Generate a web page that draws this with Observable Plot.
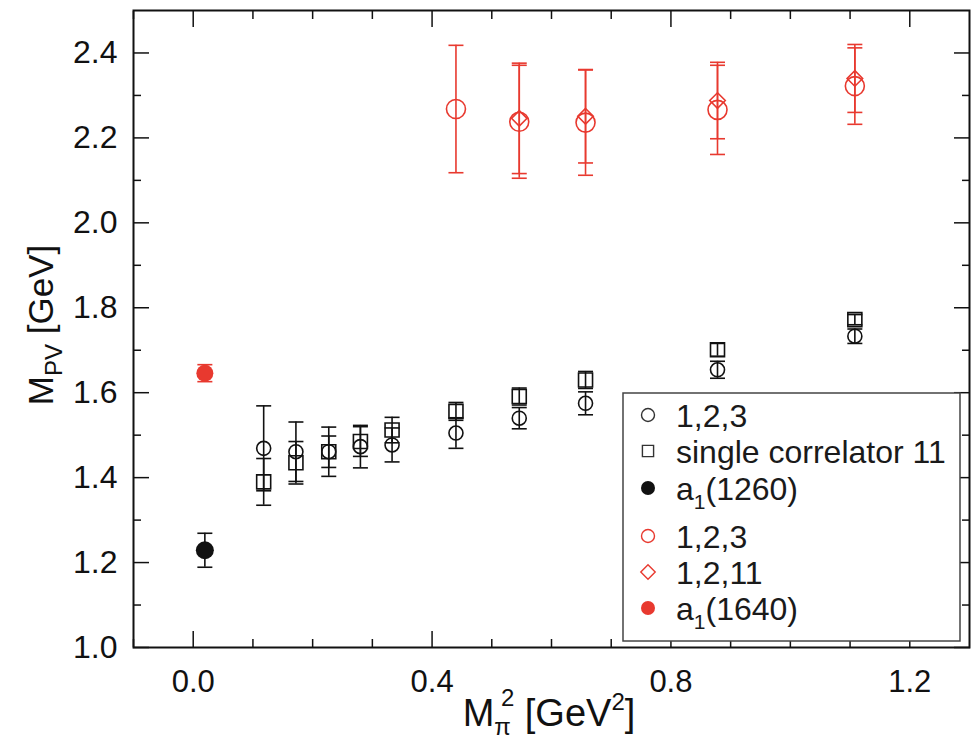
<!DOCTYPE html>
<html><head><meta charset="utf-8">
<script src="https://cdn.jsdelivr.net/npm/d3@7"></script>
<script src="https://cdn.jsdelivr.net/npm/@observablehq/plot@0.6"></script>
<style>
body{margin:0;background:#fff;}
#chart{width:976px;height:744px;}
</style></head><body><div id="chart"></div>
<script>
// ---- data ----
const mpi2Black = [0.118, 0.172, 0.227, 0.280, 0.333, 0.440, 0.546, 0.657, 0.878, 1.108];
const op123 = [1.469, 1.461, 1.461, 1.473, 1.477, 1.505, 1.540, 1.575, 1.654, 1.733];
const op123Err = [0.100, 0.070, 0.058, 0.050, 0.040, 0.036, 0.025, 0.027, 0.020, 0.017];
const single11 = [1.390, 1.435, 1.461, 1.485, 1.512, 1.556, 1.591, 1.630, 1.701, 1.772];
const single11Err = [0.055, 0.050, 0.037, 0.035, 0.030, 0.021, 0.020, 0.020, 0.015, 0.012];

const mpi2Red = [0.440, 0.546, 0.657, 0.878, 1.108];
const red123 = [2.268, 2.238, 2.236, 2.266, 2.322];
const red123Err = [0.150, 0.133, 0.124, 0.105, 0.090];
const mpi2RedDia = [0.546, 0.657, 0.878, 1.108];
const red1211 = [2.246, 2.251, 2.288, 2.340];
const red1211Err = [0.130, 0.110, 0.090, 0.080];

const mpi2Phys = [0.0195];
const a1260 = [1.229];
const a1260Err = [0.040];
const a1640 = [1.646];
const a1640Err = [0.020];

const xMajorTicks = [0.0, 0.4, 0.8, 1.2];
const xMinorTicks = [-0.1, 0.1, 0.2, 0.3, 0.5, 0.6, 0.7, 0.9, 1.0, 1.1];
const yMajorTicks = [1.0, 1.2, 1.4, 1.6, 1.8, 2.0, 2.2, 2.4];
const yMinorTicks = [1.1, 1.3, 1.5, 1.7, 1.9, 2.1, 2.3];

const legendLabels = ["1,2,3", "single correlator 11", "a1(1260)", "1,2,3", "1,2,11", "a1(1640)"];

// ---- build ----
const BLACK = "#111111";
const RED = "#e8392f";
const rows = (xs, ys, es) => xs.map((x, i) => ({x, y: ys[i], e: es[i]}));
const blackCirc = rows(mpi2Black, op123, op123Err);
const blackSq = rows(mpi2Black, single11, single11Err);
const redCirc = rows(mpi2Red, red123, red123Err);
const redDia = rows(mpi2RedDia, red1211, red1211Err);
const phys1260 = rows(mpi2Phys, a1260, a1260Err);
const phys1640 = rows(mpi2Phys, a1640, a1640Err);

const capSymbol = {draw(ctx, size) { const w = Math.sqrt(size / Math.PI); ctx.moveTo(-w, 0); ctx.lineTo(w, 0); }};

function errorBars(data, color) {
  return [
    Plot.ruleX(data, {x: "x", y1: d => d.y - d.e, y2: d => d.y + d.e, stroke: color, strokeWidth: 1.6}),
    Plot.dot(data, {x: "x", y: d => d.y - d.e, symbol: capSymbol, r: 7.5, stroke: color, strokeWidth: 1.6}),
    Plot.dot(data, {x: "x", y: d => d.y + d.e, symbol: capSymbol, r: 7.5, stroke: color, strokeWidth: 1.6})
  ];
}

const MAJ = 16, MIN = 8;
const noText = () => "";
const tickStyle = {stroke: BLACK, strokeWidth: 1.5, tickFormat: noText, label: null};

const plot = Plot.plot({
  width: 976,
  height: 744,
  marginTop: 10,
  marginRight: 7,
  marginBottom: 97,
  marginLeft: 133,
  style: {fontFamily: "'Liberation Sans', Arial, sans-serif", color: BLACK, background: "#fff"},
  x: {domain: [-0.1, 1.3]},
  y: {domain: [1.0, 2.5]},
  marks: [
    // ticks inside the frame on all four sides
    Plot.axisX(xMajorTicks, {anchor: "bottom", tickSize: -MAJ, ...tickStyle}),
    Plot.axisX(xMinorTicks, {anchor: "bottom", tickSize: -MIN, ...tickStyle}),
    Plot.axisX(xMajorTicks, {anchor: "top", tickSize: -MAJ, ...tickStyle}),
    Plot.axisX(xMinorTicks, {anchor: "top", tickSize: -MIN, ...tickStyle}),
    Plot.axisY(yMajorTicks, {anchor: "left", tickSize: -MAJ, ...tickStyle}),
    Plot.axisY(yMinorTicks, {anchor: "left", tickSize: -MIN, ...tickStyle}),
    Plot.axisY(yMajorTicks, {anchor: "right", tickSize: -MAJ, ...tickStyle}),
    Plot.axisY(yMinorTicks, {anchor: "right", tickSize: -MIN, ...tickStyle}),
    // tick labels
    Plot.axisX(xMajorTicks, {anchor: "bottom", tickSize: 0, tickPadding: 22, tickFormat: d3.format(".1f"), fontSize: 31, label: null}),
    Plot.axisY(yMajorTicks, {anchor: "left", tickSize: 0, tickPadding: 16, tickFormat: d3.format(".1f"), fontSize: 32, label: null}),

    // black series
    ...errorBars(blackCirc, BLACK),
    ...errorBars(blackSq, BLACK),
    Plot.dot(blackCirc, {x: "x", y: "y", r: 7, stroke: BLACK, strokeWidth: 1.6, fill: "none"}),
    Plot.dot(blackSq, {x: "x", y: "y", symbol: "square", r: 7.9, stroke: BLACK, strokeWidth: 1.6, fill: "none"}),
    ...errorBars(phys1260, BLACK),
    Plot.dot(phys1260, {x: "x", y: "y", r: 9, fill: BLACK}),

    // red series
    ...errorBars(redCirc, RED),
    ...errorBars(redDia, RED),
    Plot.dot(redCirc, {x: "x", y: "y", r: 9.5, stroke: RED, strokeWidth: 1.6, fill: "none"}),
    Plot.dot(redDia, {x: "x", y: "y", symbol: "diamond2", r: 7, stroke: RED, strokeWidth: 1.6, fill: "none"}),
    ...errorBars(phys1640, RED),
    Plot.dot(phys1640, {x: "x", y: "y", r: 8.5, fill: RED}),

    Plot.frame({stroke: BLACK, strokeWidth: 2})
  ]
});

document.getElementById("chart").appendChild(plot);

// ---- axis titles and legend (drawn into the same SVG) ----
const svg = d3.select(plot);
const FONT = "'Liberation Sans', Arial, sans-serif";

const yt = svg.append("text")
  .attr("transform", "translate(53,325) rotate(-90)")
  .attr("text-anchor", "middle")
  .attr("font-family", FONT).attr("font-size", 35).attr("fill", BLACK);
yt.append("tspan").text("M");
yt.append("tspan").attr("font-size", 24).attr("dy", 9).text("PV");
yt.append("tspan").attr("dy", -9).text(" [GeV]");

const xt = svg.append("text")
  .attr("transform", "translate(549,726)")
  .attr("text-anchor", "middle")
  .attr("font-family", FONT).attr("font-size", 38).attr("fill", BLACK);
xt.append("tspan").text("M");
xt.append("tspan").attr("font-size", 24).attr("dy", 9).text("π");
xt.append("tspan").attr("font-size", 24).attr("dy", -29).attr("dx", -10).text("2");
xt.append("tspan").attr("dy", 20).text(" [GeV");
xt.append("tspan").attr("font-size", 24).attr("dy", -16).text("2");
xt.append("tspan").attr("dy", 16).text("]");

// legend
const lg = svg.append("g").attr("text-anchor", "start");
lg.append("rect").attr("x", 623).attr("y", 393).attr("width", 337).attr("height", 248)
  .attr("fill", "#fff").attr("stroke", "#444").attr("stroke-width", 1.5);
const rowY = [415, 451, 488, 536, 572, 608];
const mx = 648, tx = 676;
const legendSymbols = [
  {type: d3.symbolCircle, r: 6.5, stroke: "#333", fill: "none"},
  {type: d3.symbolSquare, r: 6.3, stroke: "#333", fill: "none"},
  {type: d3.symbolCircle, r: 7, stroke: "none", fill: BLACK},
  {type: d3.symbolCircle, r: 6.5, stroke: RED, fill: "none"},
  {type: d3.symbolDiamond2, r: 6.5, stroke: RED, fill: "none"},
  {type: d3.symbolCircle, r: 7, stroke: "none", fill: RED}
];
legendLabels.forEach((lab, i) => {
  const s = legendSymbols[i];
  lg.append("path")
    .attr("d", d3.symbol(s.type, Math.PI * s.r * s.r)())
    .attr("transform", `translate(${mx},${rowY[i]})`)
    .attr("fill", s.fill).attr("stroke", s.stroke).attr("stroke-width", 1.4);
  const t = lg.append("text").attr("x", tx).attr("y", rowY[i]).attr("dy", "0.36em")
    .attr("text-anchor", "start")
    .attr("font-family", FONT).attr("font-size", 32).attr("fill", "#1a1a1a");
  const m = lab.match(/^a1(\(.*\))$/);
  if (m) {
    t.append("tspan").text("a");
    t.append("tspan").attr("font-size", 21).attr("dy", 9).text("1");
    t.append("tspan").attr("dy", -9).text(m[1]);
  } else {
    t.text(lab);
  }
});
</script>
</body></html>
